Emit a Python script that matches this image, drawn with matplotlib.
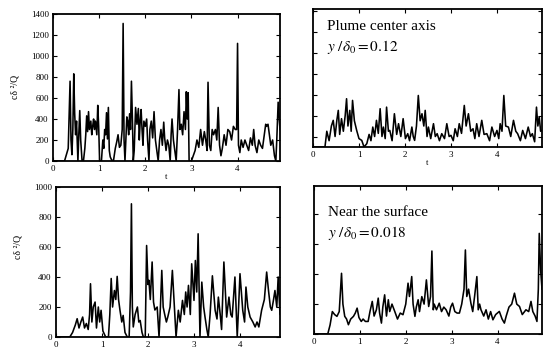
import numpy as np
import matplotlib
matplotlib.use("Agg")
import matplotlib.pyplot as plt

plt.rcParams['font.family'] = ['Liberation Serif', 'DejaVu Serif']
plt.rcParams['mathtext.fontset'] = 'stix'

# top left panel
t_tl = [0.00, 0.25, 0.29, 0.33, 0.37, 0.39, 0.41, 0.43, 0.45, 0.47, 0.49, 0.51, 0.54, 0.56,
        0.58, 0.60, 0.63, 0.66, 0.69, 0.71, 0.73, 0.75, 0.77, 0.79, 0.82, 0.84, 0.86, 0.88,
        0.90, 0.92, 0.95, 0.97, 0.99, 1.01, 1.05, 1.08, 1.10, 1.12, 1.14, 1.16, 1.18, 1.20,
        1.22, 1.24, 1.27, 1.31, 1.35, 1.38, 1.41, 1.44, 1.47, 1.50, 1.52, 1.54, 1.56, 1.58,
        1.60, 1.62, 1.64, 1.66, 1.68, 1.70, 1.72, 1.74, 1.76, 1.79, 1.82, 1.85, 1.87, 1.89,
        1.91, 1.93, 1.95, 1.97, 2.00, 2.03, 2.05, 2.08, 2.10, 2.13, 2.16, 2.19, 2.22, 2.25,
        2.28, 2.31, 2.34, 2.37, 2.40, 2.42, 2.45, 2.48, 2.51, 2.54, 2.56, 2.58, 2.61, 2.64,
        2.67, 2.70, 2.73, 2.75, 2.78, 2.81, 2.84, 2.87, 2.89, 2.91, 2.93, 2.95, 2.97, 3.00,
        3.04, 3.08, 3.12, 3.16, 3.20, 3.24, 3.28, 3.31, 3.34, 3.36, 3.39, 3.42, 3.45, 3.48,
        3.52, 3.55, 3.58, 3.61, 3.64, 3.67, 3.71, 3.75, 3.79, 3.83, 3.87, 3.91, 3.95, 3.98,
        4.00, 4.02, 4.05, 4.08, 4.12, 4.16, 4.20, 4.24, 4.28, 4.32, 4.35, 4.38, 4.42, 4.46,
        4.50, 4.54, 4.58, 4.61, 4.63, 4.66, 4.69, 4.72, 4.76, 4.80, 4.83, 4.85, 4.88, 4.92]
v_tl = [0, 0, 60, 120, 760, 200, 60, 300, 830, 450, 250, 380, 0, 260,
        480, 200, 0, 0, 120, 250, 430, 280, 470, 300, 380, 250, 330, 400,
        300, 380, 250, 530, 330, 0, 0, 200, 120, 300, 250, 460, 210, 510,
        100, 40, 10, 0, 120, 180, 250, 130, 150, 300, 1310, 200, 0, 200,
        420, 380, 250, 450, 300, 760, 420, 0, 100, 510, 350, 500, 200, 380,
        490, 300, 150, 380, 330, 400, 200, 0, 300, 380, 220, 470, 200, 100,
        0, 200, 300, 150, 370, 220, 100, 200, 150, 0, 250, 400, 200, 100,
        0, 300, 680, 300, 350, 250, 470, 300, 660, 400, 650, 0, 0, 0,
        50, 100, 200, 130, 300, 150, 280, 200, 100, 750, 150, 100, 300, 250,
        300, 200, 510, 150, 50, 120, 250, 150, 300, 280, 200, 330, 300, 300,
        1120, 150, 80, 200, 130, 200, 150, 100, 220, 150, 300, 150, 80, 200,
        150, 120, 250, 350, 330, 350, 250, 150, 200, 50, 0, 200, 560, 300]

# top right panel (plume center axis)
t_tr = [0.00, 0.26, 0.30, 0.35, 0.40, 0.44, 0.48, 0.52, 0.55, 0.58, 0.62, 0.66, 0.70, 0.73,
        0.76, 0.80, 0.83, 0.86, 0.90, 0.95, 1.00, 1.06, 1.11, 1.17, 1.22, 1.26, 1.30, 1.34,
        1.38, 1.42, 1.46, 1.50, 1.53, 1.57, 1.60, 1.64, 1.67, 1.72, 1.77, 1.82, 1.86, 1.91,
        1.96, 2.01, 2.06, 2.10, 2.15, 2.18, 2.21, 2.25, 2.29, 2.33, 2.37, 2.41, 2.44, 2.48,
        2.51, 2.56, 2.62, 2.66, 2.70, 2.75, 2.80, 2.86, 2.91, 2.96, 3.00, 3.05, 3.09, 3.14,
        3.18, 3.23, 3.29, 3.33, 3.38, 3.43, 3.48, 3.52, 3.56, 3.61, 3.67, 3.72, 3.78, 3.84,
        3.89, 3.95, 4.00, 4.04, 4.07, 4.11, 4.15, 4.19, 4.25, 4.30, 4.36, 4.41, 4.45, 4.51,
        4.56, 4.62, 4.68, 4.73, 4.77, 4.82, 4.86, 4.89, 4.92, 4.95, 4.98]
v_tr = [0, 0, 150, 60, 200, 254, 100, 260, 349, 120, 270, 150, 300, 460,
        200, 349, 150, 444, 250, 158, 80, 63, 0, 32, 120, 60, 190, 100,
        254, 130, 365, 100, 190, 80, 380, 150, 158, 60, 317, 120, 222, 100,
        270, 80, 127, 60, 190, 100, 63, 200, 491, 250, 317, 200, 349, 100,
        190, 80, 222, 100, 127, 60, 127, 80, 222, 100, 111, 60, 174, 100,
        222, 130, 396, 200, 317, 150, 174, 80, 222, 100, 254, 120, 127, 60,
        190, 100, 158, 80, 222, 150, 491, 200, 190, 100, 254, 150, 127, 60,
        158, 80, 190, 100, 127, 50, 380, 200, 285, 150, 158]

# bottom left panel
t_bl = [0.00, 0.30, 0.36, 0.42, 0.46, 0.50, 0.54, 0.58, 0.62, 0.66, 0.70, 0.73, 0.75, 0.78,
        0.81, 0.85, 0.88, 0.92, 0.95, 0.98, 1.02, 1.08, 1.14, 1.17, 1.20, 1.23, 1.27, 1.30,
        1.33, 1.36, 1.39, 1.43, 1.46, 1.50, 1.55, 1.59, 1.62, 1.64, 1.66, 1.68, 1.72, 1.77,
        1.80, 1.83, 1.87, 1.90, 1.94, 1.97, 2.00, 2.02, 2.05, 2.09, 2.12, 2.15, 2.20, 2.24,
        2.27, 2.30, 2.33, 2.36, 2.40, 2.43, 2.48, 2.53, 2.57, 2.61, 2.66, 2.70, 2.75, 2.79,
        2.82, 2.85, 2.88, 2.92, 2.95, 3.00, 3.03, 3.06, 3.09, 3.13, 3.17, 3.21, 3.24, 3.28,
        3.31, 3.35, 3.40, 3.46, 3.50, 3.53, 3.57, 3.60, 3.65, 3.71, 3.76, 3.80, 3.83, 3.89,
        3.94, 3.97, 4.00, 4.06, 4.10, 4.13, 4.17, 4.22, 4.28, 4.33, 4.37, 4.41, 4.47, 4.53,
        4.58, 4.62, 4.66, 4.69, 4.73, 4.76, 4.80, 4.83, 4.87, 4.91]
v_bl = [0, 0, 30, 80, 122, 60, 100, 133, 60, 90, 50, 150, 355, 100,
        200, 233, 60, 200, 100, 178, 40, 0, 0, 150, 390, 200, 310, 250,
        404, 250, 180, 100, 144, 30, 0, 0, 300, 888, 200, 67, 150, 200,
        100, 110, 30, 0, 0, 610, 350, 378, 250, 500, 233, 180, 200, 0,
        200, 444, 200, 155, 100, 133, 200, 444, 222, 0, 178, 100, 244, 150,
        300, 200, 344, 150, 488, 244, 510, 300, 688, 0, 366, 200, 133, 50,
        0, 150, 408, 178, 120, 266, 150, 50, 500, 133, 266, 150, 133, 400,
        0, 200, 422, 178, 100, 333, 200, 133, 100, 67, 100, 67, 178, 250,
        433, 310, 200, 178, 250, 310, 200, 400, 150, 300]

# bottom right panel (near the surface)
t_br = [0.00, 0.30, 0.35, 0.40, 0.45, 0.50, 0.55, 0.60, 0.63, 0.67, 0.71, 0.75, 0.80, 0.86,
        0.90, 0.94, 0.98, 1.03, 1.07, 1.12, 1.18, 1.22, 1.27, 1.31, 1.36, 1.40, 1.43, 1.47,
        1.50, 1.54, 1.58, 1.62, 1.65, 1.70, 1.76, 1.82, 1.88, 1.94, 2.00, 2.05, 2.08, 2.10,
        2.13, 2.16, 2.20, 2.23, 2.27, 2.30, 2.35, 2.40, 2.45, 2.50, 2.54, 2.57, 2.60, 2.62,
        2.67, 2.73, 2.78, 2.83, 2.88, 2.94, 2.98, 3.02, 3.07, 3.12, 3.17, 3.22, 3.27, 3.30,
        3.33, 3.37, 3.42, 3.46, 3.50, 3.55, 3.58, 3.61, 3.64, 3.70, 3.75, 3.80, 3.85, 3.90,
        3.96, 4.04, 4.10, 4.15, 4.19, 4.25, 4.31, 4.37, 4.42, 4.48, 4.54, 4.62, 4.68, 4.73,
        4.77, 4.82, 4.86, 4.89, 4.91, 4.94, 4.97]
v_br = [0, 0, 60, 150, 130, 118, 150, 406, 200, 118, 100, 62, 100, 118,
        140, 173, 110, 84, 100, 84, 84, 150, 218, 120, 162, 240, 140, 73,
        180, 262, 120, 229, 150, 200, 151, 100, 140, 129, 200, 340, 251, 300,
        384, 200, 118, 180, 229, 150, 250, 200, 362, 184, 250, 555, 162, 200,
        162, 206, 150, 180, 162, 120, 180, 206, 150, 140, 140, 200, 300, 562,
        251, 300, 206, 150, 250, 384, 162, 200, 162, 120, 162, 100, 150, 95,
        130, 151, 100, 73, 120, 180, 200, 273, 200, 184, 130, 162, 150, 218,
        150, 120, 84, 300, 673, 428, 300]

fig = plt.figure(figsize=(5.43, 3.49), dpi=100)
W, H = 543.0, 349.0

def make_ax(l, r, b, t):
    return fig.add_axes([l / W, 1 - b / H, (r - l) / W, (b - t) / H])

ax_tl = make_ax(53, 280, 161, 14)
ax_tr = make_ax(313, 542, 147, 8.5)
ax_bl = make_ax(56, 280, 337, 187)
ax_br = make_ax(314, 542, 334, 186)

panels = [(ax_tl, t_tl, v_tl, 4.92, 1400, np.arange(0, 1401, 200), True),
          (ax_tr, t_tr, v_tr, 4.98, 1320, np.arange(100, 1301, 200), False),
          (ax_bl, t_bl, v_bl, 4.87, 1000, np.arange(0, 1001, 200), True),
          (ax_br, t_br, v_br, 4.97, 990, np.arange(0, 990, 200), False)]

for ax, t, v, xmax, ymax, yt, show_y in panels:
    ax.plot(t, v, color='black', lw=1.15)
    ax.set_xlim(0, xmax)
    ax.set_ylim(0, ymax)
    ax.set_xticks([0, 1, 2, 3, 4])
    ax.set_yticks(yt)
    ax.tick_params(direction='in', length=3, width=0.8, top=True, right=True,
                   labelsize=6.5, pad=3)
    if not show_y:
        ax.set_yticklabels([])
    for s in ax.spines.values():
        s.set_linewidth(1.3)

ax_tl.set_xlabel('t', fontsize=6, labelpad=0)
ax_tr.set_xlabel('t', fontsize=6, labelpad=0)

fig.text(15 / W, 1 - 87 / H, 'cδ ²/Q', rotation=90, fontsize=7, ha='center', va='center')
fig.text(18 / W, 1 - 247 / H, 'cδ ²/Q', rotation=90, fontsize=7, ha='center', va='center')

ax_tr.text(0.06, 0.87, 'Plume center axis', transform=ax_tr.transAxes, fontsize=11,
           ha='left', va='center')
ax_tr.text(0.06, 0.72, r'$y\ /\delta_0 = 0.12$', transform=ax_tr.transAxes, fontsize=11,
           ha='left', va='center')
ax_br.text(0.06, 0.82, 'Near the surface', transform=ax_br.transAxes, fontsize=11,
           ha='left', va='center')
ax_br.text(0.06, 0.68, r'$y\ /\delta_0 = 0.018$', transform=ax_br.transAxes, fontsize=11,
           ha='left', va='center')

fig.savefig('out.png', dpi=100)
